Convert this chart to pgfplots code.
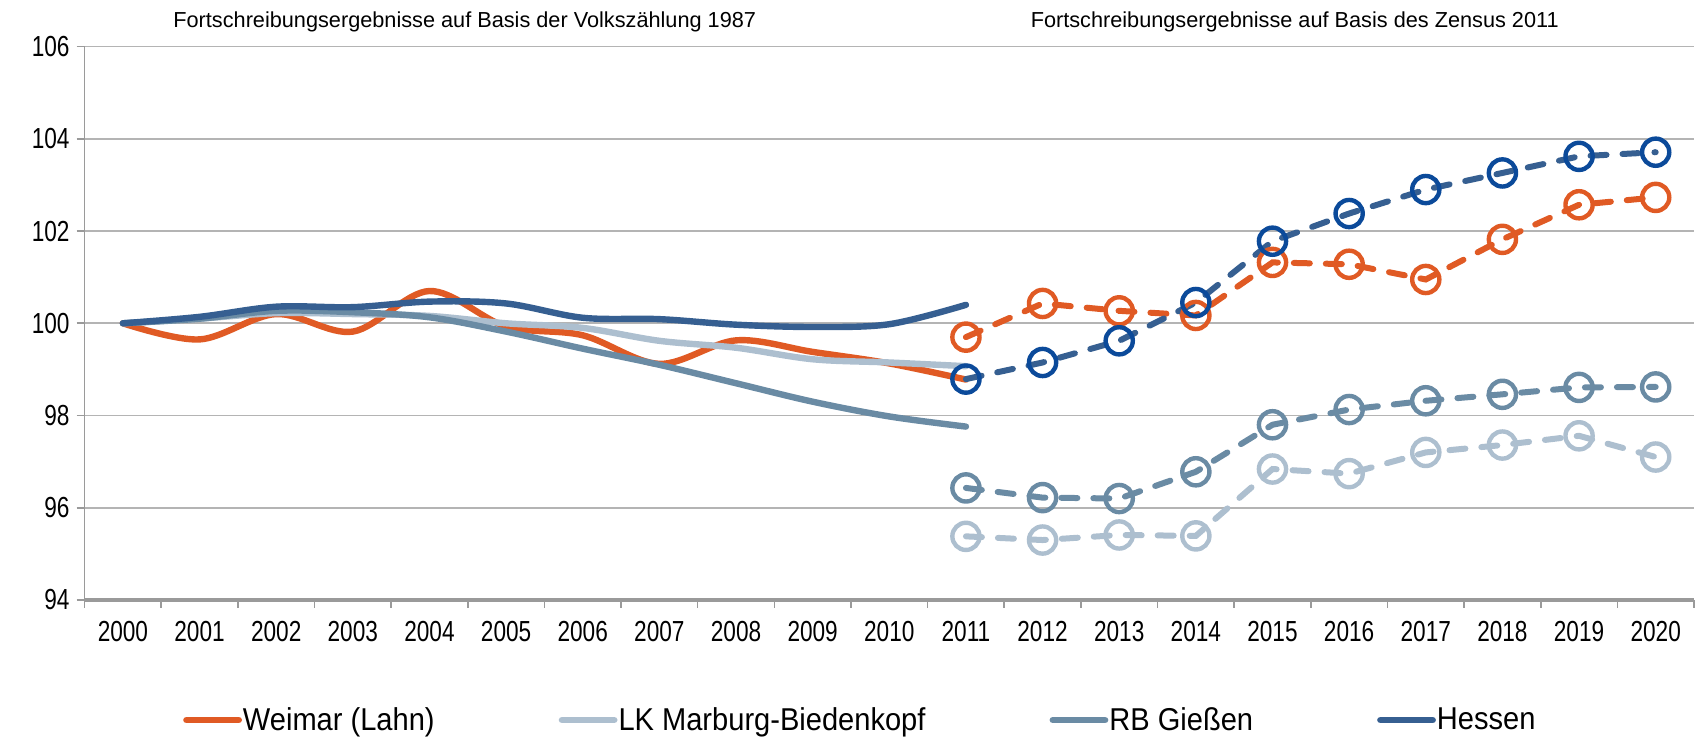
\documentclass[border=0pt]{standalone}
\usepackage{pgfplots}
\pgfplotsset{compat=1.18}
\usepackage{fontspec}
\setmainfont{Liberation Sans}
\newfontfamily\narrowfont{Liberation Sans}[FakeStretch=0.78]
\newfontfamily\legfont{Liberation Sans}[FakeStretch=0.92]
\definecolor{cWei}{HTML}{E05A24}
\definecolor{cLK}{HTML}{ADBFCF}
\definecolor{cRB}{HTML}{6A8BA4}
\definecolor{cHE}{HTML}{365F91}
\definecolor{cHEm}{HTML}{0B4A9A}
\definecolor{cGrid}{HTML}{B4B4B4}
\definecolor{cAxis}{HTML}{9A9A9A}
\begin{document}
\begin{tikzpicture}
\path[use as bounding box] (-42.3pt,-71pt) rectangle (808.2pt,300pt);
\begin{axis}[
  at={(0pt,0pt)}, anchor=south west,
  width=804.7pt, height=276.7pt, scale only axis,
  xmin=1999.5, xmax=2020.5, ymin=94, ymax=106,
  xtick={1999.5,2000.5,...,2020.5},
  x tick label as interval,
  xticklabels={2000,2001,2002,2003,2004,2005,2006,2007,2008,2009,2010,2011,2012,2013,2014,2015,2016,2017,2018,2019,2020},
  ytick={94,96,...,106},
  /pgf/number format/1000 sep={},
  /pgf/number format/assume math mode=true,
  ymajorgrids, grid style={cGrid, line width=0.8pt},
  axis x line*=bottom, axis y line*=left,
  axis line style={-, draw=cAxis, line width=0.8pt},
  x axis line style={line width=1.6pt},
  tick align=outside,
  major tick length=4pt,
  tick style={draw=cAxis, line width=0.8pt},
  ticklabel style={font=\narrowfont\fontsize{14.5}{16}\selectfont, text=black},
  xticklabel style={yshift=-3pt},
  clip=false,
  legend style={at={(0.4817,-0.2170)}, anchor=center, draw=none, fill=none,
    font=\legfont\fontsize{15.8}{18}\selectfont, nodes={inner sep=0.5pt},
    /tikz/every even column/.append style={column sep=61.5pt}},
  legend columns=4,
  legend image code/.code={\draw[line width=3.4pt, line cap=round] (0pt,0pt) -- (26pt,0pt);},
]
% solid lines 2000-2011
\addplot[cWei, line width=3.2pt, smooth, tension=0.55, line cap=round] coordinates {
 (2000,100) (2001,99.65) (2002,100.2) (2003,99.82) (2004,100.7) (2005,99.93) (2006,99.74) (2007,99.12) (2008,99.63) (2009,99.38) (2010,99.13) (2011,98.78)};
\addlegendentry{Weimar (Lahn)}
\addplot[cLK, line width=3.2pt, smooth, tension=0.55, line cap=round] coordinates {
 (2000,100) (2001,100.1) (2002,100.22) (2003,100.2) (2004,100.16) (2005,100.0) (2006,99.9) (2007,99.62) (2008,99.47) (2009,99.22) (2010,99.15) (2011,99.07)};
\addlegendentry{LK Marburg-Biedenkopf}
\addplot[cRB, line width=3.2pt, smooth, tension=0.55, line cap=round] coordinates {
 (2000,100) (2001,100.1) (2002,100.27) (2003,100.24) (2004,100.13) (2005,99.82) (2006,99.45) (2007,99.1) (2008,98.7) (2009,98.3) (2010,97.98) (2011,97.76)};
\addlegendentry{RB Gie\ss en}
\addplot[cHE, line width=3.2pt, smooth, tension=0.55, line cap=round] coordinates {
 (2000,100) (2001,100.14) (2002,100.36) (2003,100.35) (2004,100.47) (2005,100.43) (2006,100.12) (2007,100.09) (2008,99.97) (2009,99.92) (2010,99.98) (2011,100.4)};
\addlegendentry{Hessen}
% dashed lines 2011-2020
\addplot[forget plot, cWei, line width=3pt, dash pattern=on 8pt off 8pt, line cap=round,
  mark=o, mark size=6.8pt, mark options={solid, line width=2.2pt, draw=cWei}] coordinates {
 (2011,99.7) (2012,100.43) (2013,100.27) (2014,100.17) (2015,101.32) (2016,101.28) (2017,100.95) (2018,101.82) (2019,102.57) (2020,102.73)};
\addplot[forget plot, cLK, line width=3pt, dash pattern=on 8pt off 8pt, line cap=round,
  mark=o, mark size=6.8pt, mark options={solid, line width=2.2pt, draw=cLK}] coordinates {
 (2011,95.38) (2012,95.3) (2013,95.41) (2014,95.39) (2015,96.84) (2016,96.74) (2017,97.2) (2018,97.36) (2019,97.56) (2020,97.1)};
\addplot[forget plot, cRB, line width=3pt, dash pattern=on 8pt off 8pt, line cap=round,
  mark=o, mark size=6.8pt, mark options={solid, line width=2.2pt, draw=cRB}] coordinates {
 (2011,96.43) (2012,96.22) (2013,96.2) (2014,96.78) (2015,97.8) (2016,98.13) (2017,98.32) (2018,98.46) (2019,98.61) (2020,98.62)};
\addplot[forget plot, cHE, line width=3pt, dash pattern=on 8pt off 8pt, line cap=round,
  mark=o, mark size=6.8pt, mark options={solid, line width=2.2pt, draw=cHEm}] coordinates {
 (2011,98.79) (2012,99.15) (2013,99.62) (2014,100.45) (2015,101.78) (2016,102.38) (2017,102.9) (2018,103.26) (2019,103.62) (2020,103.71)};
\node[font=\fontsize{10.85}{13}\selectfont] at (axis cs:2004.46,106.54) {Fortschreibungsergebnisse auf Basis der Volkszählung 1987};
\node[font=\fontsize{10.85}{13}\selectfont] at (axis cs:2015.29,106.54) {Fortschreibungsergebnisse auf Basis des Zensus 2011};
\end{axis}
\end{tikzpicture}
\end{document}
